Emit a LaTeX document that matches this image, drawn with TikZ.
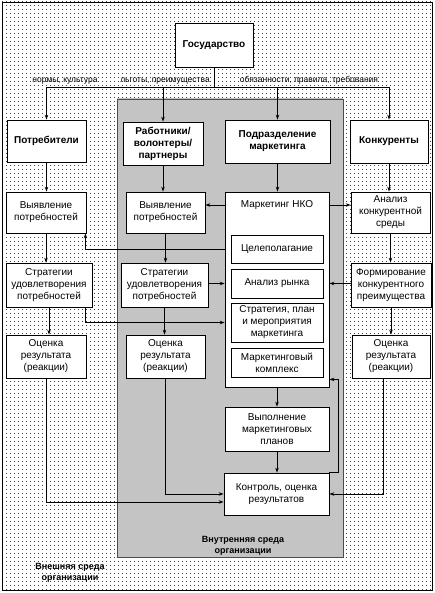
\documentclass[tikz,border=0pt]{standalone}
\usepackage{fontspec}
\setmainfont{Liberation Sans}
\usepackage{tikz}
\usetikzlibrary{arrows.meta,patterns.meta}

\begin{document}
\begin{tikzpicture}
  [x=1pt,y=-1pt,line width=.7pt,>={Stealth[length=5pt,width=3.5pt]},
   box/.style={draw,fill=white,align=center,inner sep=1pt,line width=.8pt,font=\fontsize{10}{12}\selectfont},
   bbox/.style={box,font=\fontsize{10}{12}\selectfont\bfseries},
   sz/.style 2 args={minimum width=#1pt,minimum height=#2pt},
   lbl/.style={anchor=south,inner sep=1pt,font=\fontsize{8.5}{10}\selectfont},
   env/.style={align=center,inner sep=0pt,font=\fontsize{9}{10.5}\selectfont\bfseries}]
  \useasboundingbox (0,0) rectangle (435,593);
  \draw[preaction={fill=white},pattern={Dots[distance=4pt,radius=.6pt]}] (2,2) rectangle (432,590);
  \draw[draw=black!70,preaction={fill=white},pattern={Dots[distance=2pt,radius=.7pt]}] (117,99) rectangle (343,557);
  \node[env] (outer) at (70,573) {Внешняя среда\\организации};
  \node[env] (inner) at (243,546) {Внутренняя среда\\организации};

  \node[bbox,sz={78}{44}] (gos) at (214,45) {Государство};
  \node[lbl] (l1) at (65,86) {нормы, культура};
  \node[lbl] (l2) at (165,86) {льготы, преимущества};
  \node[lbl] (l3) at (309,86) {обязанности, правила, требования};
  \node[bbox,sz={79}{42}] (potr) at (46.5,141) {Потребители};
  \node[bbox,sz={80}{43}] (rab) at (163,143.5) {Работники/\\волонтеры/\\партнеры};
  \node[bbox,sz={105}{43}] (podr) at (277.5,141.5) {Подразделение\\маркетинга};
  \node[bbox,sz={78}{43}] (konk) at (389,141.5) {Конкуренты};

  \node[box,sz={80}{41}] (vyav1) at (46,212.5) {Выявление\\потребностей};
  \node[box,sz={86}{44}] (str1) at (49,285) {Стратегии\\удовлетворения\\потребностей};
  \node[box,sz={80}{43}] (oc1) at (46,356.5) {Оценка\\результата\\(реакции)};
  \node[box,sz={79}{41}] (vyav2) at (165.5,212.5) {Выявление\\потребностей};
  \node[box,sz={87}{44}] (str2) at (164.5,285) {Стратегии\\удовлетворения\\потребностей};
  \node[box,sz={79}{43}] (oc2) at (165.5,356.5) {Оценка\\результата\\(реакции)};

  \node[box,sz={104}{195}] (mark) at (277,289.5) {};
  \node[inner sep=1pt,font=\fontsize{10}{12}\selectfont] (mtit) at (277,205) {Маркетинг НКО};
  \node[box,sz={92}{28}] (cel) at (277,249) {Целеполагание};
  \node[box,sz={92}{29}] (ryn) at (277,283.5) {Анализ рынка};
  \node[box,sz={92}{39}] (plan) at (277,322.5) {Стратегия, план\\и мероприятия\\маркетинга};
  \node[box,sz={92}{29}] (komp) at (277,362.5) {Маркетинговый\\комплекс};
  \node[box,sz={104}{44}] (vyp) at (277,429) {Выполнение\\маркетинговых\\планов};
  \node[box,sz={105}{42}] (kontr) at (276.5,494) {Контроль, оценка\\результатов};

  \node[box,sz={79}{41}] (anal) at (390.5,212.5) {Анализ\\конкурентной\\среды};
  \node[box,sz={80}{44}] (form) at (391,285) {Формирование\\конкурентного\\преимущества};
  \node[box,sz={78}{43}] (oc3) at (391,356.5) {Оценка\\результата\\(реакции)};

  \coordinate (bus) at (214,87);
  \draw (gos) -- (bus);
  \foreach \to in {potr,rab,podr,konk}
    \draw[->] (bus) -| (\to);
  \foreach \from/\to in {potr/vyav1,vyav1/str1,str1/oc1,rab/vyav2,vyav2/str2,str2/oc2,
      podr/mark,konk/anal,anal/form,form/oc3,mark/vyp,vyp/kontr}
    \draw[->] (\from) -- (\from.south |- \to.north);

  \draw[->] (mtit -| mark.west) -- (mtit -| vyav2.east);
  \draw[->] (mtit -| mark.east) -- (mtit -| anal.west);
  \draw[->] (cel -| mark.west) -| ([xshift=-1pt]vyav1.south east);
  \draw[->] (ryn -| str2.east) -- (ryn -| mark.west);
  \draw[->] (ryn -| form.west) -- (ryn -| mark.east);
  \draw[->] ([xshift=-7pt]str1.south east) |- (plan -| mark.west);
  \draw[->] (oc1) |- ([yshift=-8pt]kontr.west);
  \draw[->] (oc2) |- (kontr);
  \draw[->] ([xshift=-8pt]oc3.south) |- (kontr);
  \draw[->] (kontr.north east) -- ++(9,0) |- ([yshift=8pt]mark.south east);
\end{tikzpicture}
\end{document}
